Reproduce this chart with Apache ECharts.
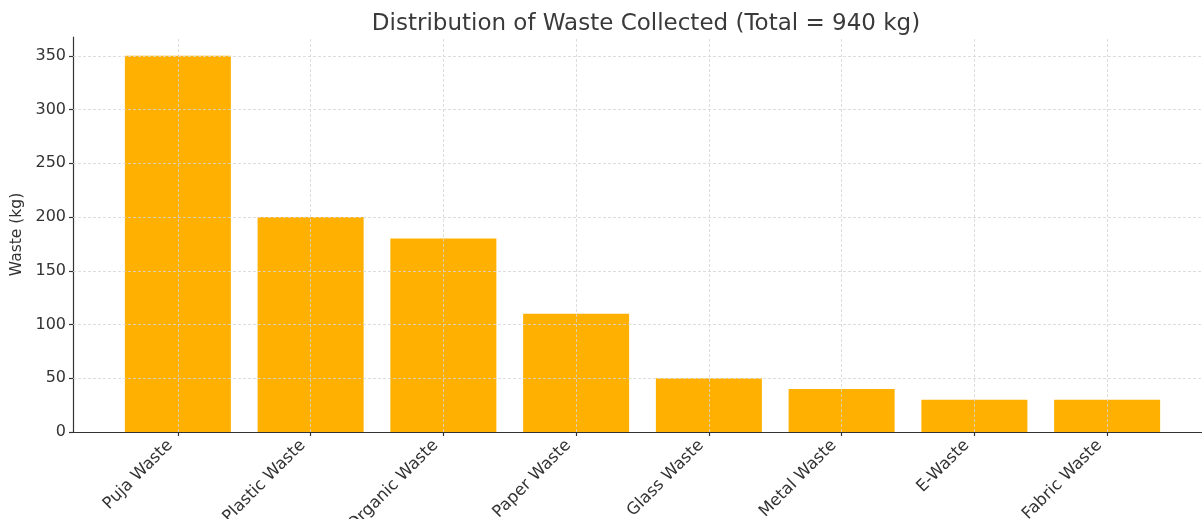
<!DOCTYPE html>
<html>
<head>
<meta charset="utf-8">
<script src="https://cdn.jsdelivr.net/npm/echarts@6/dist/echarts.min.js"></script>
<style>
  html, body { margin: 0; padding: 0; background: #fff; }
  #chart { width: 1202px; height: 519px; }
</style>
</head>
<body>
<div id="chart"></div>
<script>
  const categories = ['Puja Waste', 'Plastic Waste', 'Organic Waste', 'Paper Waste', 'Glass Waste', 'Metal Waste', 'E-Waste', 'Fabric Waste'];
  const wasteKg = [350, 200, 180, 110, 50, 40, 30, 30];
  const yTicks = [0, 50, 100, 150, 200, 250, 300, 350];
  const xTicks = categories.map((c, i) => i);

  const font = 'DejaVu Sans';
  const textColor = '#333';
  const gridLine = { color: '#d4d4d4', type: [3, 2], width: 0.8 };

  // gridlines go on top of the bars, like matplotlib does
  const gridMarks = []
    .concat(xTicks.map(x => ({ xAxis: x })))
    .concat(yTicks.filter(v => v > 0).map(y => ({ yAxis: y })));

  const chart = echarts.init(document.getElementById('chart'));
  chart.setOption({
    animation: false,
    title: {
      text: 'Distribution of Waste Collected (Total = 940 kg)',
      left: 641,
      textAlign: 'center',
      top: 8,
      textStyle: { fontFamily: font, fontSize: 23, fontWeight: 'normal', color: '#3a3a3a' }
    },
    grid: { left: 73, right: -10, top: 37, bottom: 87, outerBoundsMode: 'none', containLabel: false },
    xAxis: {
      type: 'value',
      min: -0.79,
      max: 7.79,
      axisLine: { show: true, onZero: false, lineStyle: { color: '#333', width: 1.2 } },
      axisTick: { show: true, customValues: xTicks, length: 4, lineStyle: { color: '#333', width: 1.2 } },
      axisLabel: {
        customValues: xTicks,
        rotate: 45,
        margin: 3,
        padding: [0, 11, 0, 0],
        fontFamily: font,
        fontSize: 16.5,
        color: textColor,
        formatter: v => categories[Math.round(v)]
      },
      splitLine: { show: false }
    },
    yAxis: {
      type: 'value',
      min: 0,
      max: 367.5,
      name: 'Waste (kg)',
      nameLocation: 'middle',
      nameGap: 46,
      nameTextStyle: { fontFamily: font, fontSize: 15.5, color: textColor },
      axisLine: { show: true, onZero: false, lineStyle: { color: '#333', width: 1.2 } },
      axisTick: { show: true, customValues: yTicks, length: 4, lineStyle: { color: '#333', width: 1.2 } },
      axisLabel: { customValues: yTicks, margin: 7, fontFamily: font, fontSize: 16, color: textColor },
      splitLine: { show: false }
    },
    series: [{
      type: 'bar',
      data: wasteKg.map((v, i) => [i, v]),
      barWidth: 106,
      itemStyle: { color: '#FFB000' },
      markLine: {
        silent: true,
        symbol: 'none',
        label: { show: false },
        lineStyle: gridLine,
        data: gridMarks,
        z: 5
      }
    }]
  });
</script>
</body>
</html>
